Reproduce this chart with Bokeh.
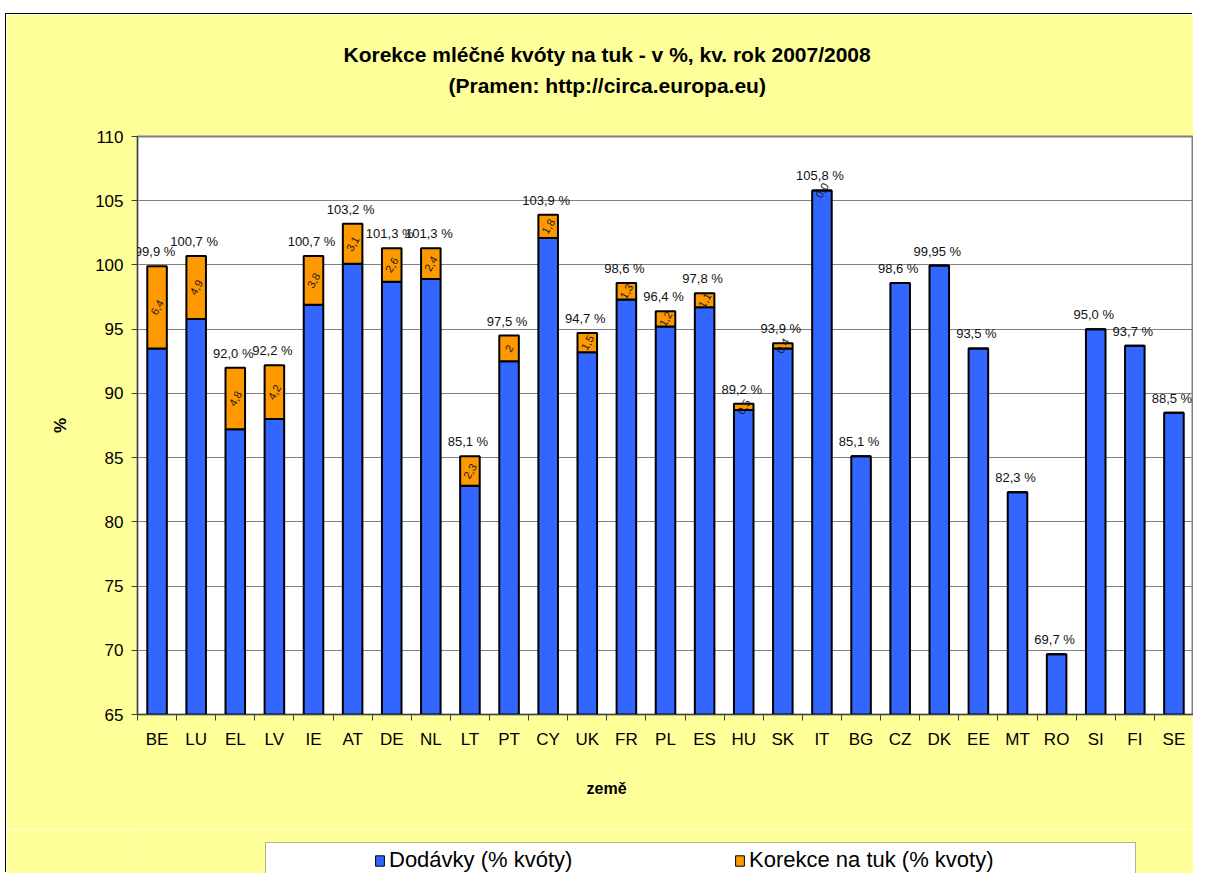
from bokeh.plotting import figure
from bokeh.layouts import column, row
from bokeh.models import (ColumnDataSource, FixedTicker, Range1d, Legend, LegendItem, Title,
                          Spacer, BoxAnnotation)
from bokeh.core.properties import value
from bokeh.embed import file_html
from bokeh.resources import INLINE

# ---------------- data ----------------
countries = ["BE", "LU", "EL", "LV", "IE", "AT", "DE", "NL", "LT", "PT", "CY", "UK", "FR", "PL",
             "ES", "HU", "SK", "IT", "BG", "CZ", "DK", "EE", "MT", "RO", "SI", "FI", "SE"]
deliveries = [93.5, 95.8, 87.2, 88.0, 96.9, 100.1, 98.7, 98.9, 82.8, 92.5, 102.1, 93.2, 97.3, 95.2,
              96.7, 88.7, 93.5, 105.8, 85.1, 98.6, 99.95, 93.5, 82.3, 69.7, 95.0, 93.7, 88.5]
fat_correction = [6.4, 4.9, 4.8, 4.2, 3.8, 3.1, 2.6, 2.4, 2.3, 2.0, 1.8, 1.5, 1.3, 1.2,
                  1.1, 0.5, 0.4, 0.0, 0.0, 0.0, 0.0, 0.0, 0.0, 0.0, 0.0, 0.0, 0.0]
correction_labels = ["6,4", "4,9", "4,8", "4,2", "3,8", "3,1", "2,6", "2,4", "2,3", "2", "1,8", "1,5", "1,3", "1,2",
                     "1,1", "0,5", "0,4", "0,0", "", "", "", "", "", "", "", "", ""]
total_labels = ["99,9 %", "100,7 %", "92,0 %", "92,2 %", "100,7 %", "103,2 %", "101,3 %", "101,3 %", "85,1 %",
                "97,5 %", "103,9 %", "94,7 %", "98,6 %", "96,4 %", "97,8 %", "89,2 %", "93,9 %", "105,8 %",
                "85,1 %", "98,6 %", "99,95 %", "93,5 %", "82,3 %", "69,7 %", "95,0 %", "93,7 %", "88,5 %"]
y_ticks = [65, 70, 75, 80, 85, 90, 95, 100, 105, 110]

title_line1 = "Korekce mléčné kvóty na tuk - v %, kv. rok 2007/2008"
title_line2 = "(Pramen: http://circa.europa.eu)"
x_title = "země"
y_title = "%"
series_names = ["Dodávky (% kvóty)", "Korekce na tuk (% kvoty)"]

# ---------------- derived ----------------
n = len(countries)
Y_MIN, Y_MAX = y_ticks[0], y_ticks[-1]
xs = [i + 0.5 for i in range(n)]
tops = [d + c for d, c in zip(deliveries, fat_correction)]
mids = [d + c / 2 for d, c in zip(deliveries, fat_correction)]
base = [Y_MIN] * n

src = ColumnDataSource(dict(x=xs, deliv=deliveries, corr=fat_correction, top=tops, mid=mids,
                            base=base, clab=correction_labels, tlab=total_labels))

FONT = "Liberation Sans"
BLUE = "#3366FF"
ORANGE = "#FF9900"
YELLOW = "#FFFF99"

LEFT_GAP = 6          # white strip left of the chart area
TOP_GAP = 14          # white strip above the chart area
W = 1193 - LEFT_GAP   # figure width
MAIN_H = 815
LEG_H = 873 - TOP_GAP - MAIN_H
BORDER_L = 131
FRAME_W = W - BORDER_L

p = figure(width=W, height=MAIN_H, x_range=Range1d(0, n), y_range=Range1d(Y_MIN, Y_MAX),
           output_backend="svg", toolbar_location=None,
           min_border_left=BORDER_L, min_border_right=0, min_border_top=122, min_border_bottom=115)
p.background_fill_color = "white"
p.border_fill_color = YELLOW
p.outline_line_color = "#808080"
p.outline_line_width = 2

blue = p.vbar(x="x", bottom="base", top="deliv", width=0.5, source=src,
              fill_color=BLUE, line_color="black", line_width=2)
orange = p.vbar(x="x", bottom="deliv", top="top", width=0.5, source=src,
                fill_color=ORANGE, line_color="black", line_width=2)

p.text(x="x", y="top", text="tlab", source=src, text_font=value(FONT), text_font_size="13px",
       text_align="center", text_baseline="bottom", x_offset=-2, y_offset=-7, text_color="#111111")
p.text(x="x", y="mid", text="clab", source=src, text_font=value(FONT), text_font_size="11px",
       text_align="center", text_baseline="middle", angle=60, angle_units="deg", text_color="#1a1a1a")

# axes
p.yaxis.ticker = FixedTicker(ticks=y_ticks)
p.yaxis.major_label_text_font = FONT
p.yaxis.major_label_text_font_size = "17px"
p.yaxis.major_label_text_color = "black"
p.yaxis.major_tick_out = 6
p.yaxis.major_tick_in = 0
p.yaxis.minor_tick_line_color = None
p.yaxis.major_tick_line_color = "#404040"
p.yaxis.axis_line_color = "#404040"
p.yaxis.major_label_standoff = 8
p.yaxis.axis_label = y_title
p.yaxis.axis_label_text_font = FONT
p.yaxis.axis_label_text_font_style = "bold"
p.yaxis.axis_label_text_font_size = "17px"
p.yaxis.axis_label_text_color = "black"
p.yaxis.axis_label_standoff = 22

p.xaxis.ticker = FixedTicker(ticks=xs, minor_ticks=list(range(n + 1)))
p.xaxis.major_label_overrides = {x: c for x, c in zip(xs, countries)}
p.xaxis.major_label_text_font = FONT
p.xaxis.major_label_text_font_size = "17px"
p.xaxis.major_label_text_color = "black"
p.xaxis.major_tick_out = 0
p.xaxis.major_tick_in = 0
p.xaxis.minor_tick_out = 6
p.xaxis.minor_tick_in = 0
p.xaxis.minor_tick_line_color = "#404040"
p.xaxis.axis_line_color = "#404040"
p.xaxis.major_label_standoff = 9

p.xgrid.visible = False
p.ygrid.grid_line_color = "#808080"
p.ygrid.grid_line_width = 1

# titles (stacked above: spacer closest to the frame, then line 2, then line 1)
p.add_layout(Title(text=" ", text_font_size="1px", standoff=33), "above")
p.add_layout(Title(text=title_line2, align="left", offset=311, vertical_align="middle", standoff=6,
                   text_font=FONT, text_font_size="21px", text_font_style="bold",
                   text_color="black"), "above")
p.add_layout(Title(text=title_line1, align="left", offset=206, vertical_align="middle", standoff=6,
                   text_font=FONT, text_font_size="21px", text_font_style="bold",
                   text_color="black"), "above")

# x-axis title below the tick labels
p.add_layout(Title(text=x_title, align="left", offset=449, vertical_align="middle", standoff=55,
                   text_font=FONT, text_font_size="16px", text_font_style="bold",
                   text_color="black"), "below")

# ---------------- legend strip (second figure, frame aligned with the main one) ----------------
pl = figure(width=W, height=LEG_H, x_range=Range1d(0, FRAME_W), y_range=Range1d(0, LEG_H),
            output_backend="svg", toolbar_location=None,
            x_axis_location=None, y_axis_location=None,
            min_border_left=BORDER_L, min_border_right=0, min_border_top=0, min_border_bottom=0)
pl.background_fill_color = YELLOW
pl.border_fill_color = YELLOW
pl.outline_line_color = None
pl.xgrid.visible = False
pl.ygrid.visible = False

# legend box: 128..998 px from the frame's left, top 13 px below the strip's top, bottom cut off
pl.add_layout(BoxAnnotation(left=128, right=998, top=LEG_H - 13, bottom=-10,
                            fill_color="white", fill_alpha=1.0,
                            line_color="black", line_width=1))

# legend proxies (a single point far outside the strip's ranges, so only the legend shows them)
lg_blue = pl.vbar(x=[-1000], bottom=[-1000], top=[-999], width=1, fill_color=BLUE,
                  line_color="black", line_width=1)
lg_orange = pl.vbar(x=[-1000], bottom=[-1000], top=[-999], width=1, fill_color=ORANGE,
                    line_color="black", line_width=1)

legend = Legend(items=[LegendItem(label=series_names[0], renderers=[lg_blue]),
                       LegendItem(label=series_names[1], renderers=[lg_orange])],
                orientation="horizontal", location=(237, 0), margin=0,
                border_line_color=None, background_fill_alpha=0.0,
                label_text_font=FONT, label_text_font_size="22px", label_text_color="black",
                glyph_width=11, glyph_height=13, label_standoff=4, padding=0,
                spacing=0, label_width=345)
pl.add_layout(legend)

chart = column(p, pl)
chart.styles = {"box-shadow": "-1px -1px 0 0 #000000"}
layout = column(Spacer(width=W, height=TOP_GAP),
                row(Spacer(width=LEFT_GAP, height=MAIN_H + LEG_H), chart))
open("out.html", "w").write(file_html(layout, INLINE))
